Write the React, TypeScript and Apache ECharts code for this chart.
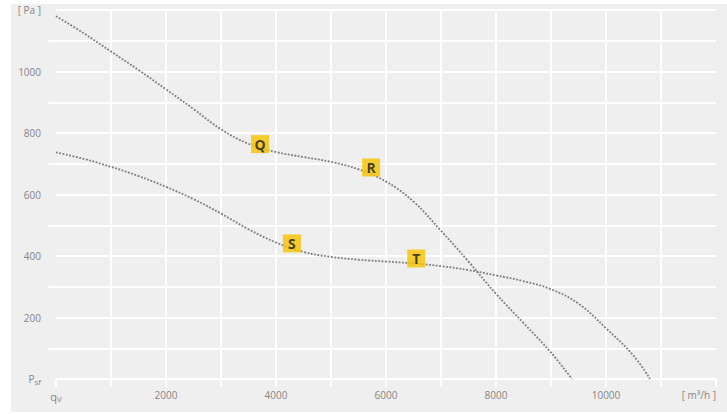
import React, { useEffect, useRef } from "react";
import * as echarts from "echarts";

const upperFlow = [0, 500, 1000, 1500, 2000, 2500, 3000, 3500, 4000, 4500, 5000, 5500, 6000, 6500, 7000, 7500, 8000, 8500, 9000, 9380];
const upperPressure = [1180, 1125, 1065, 1005, 942, 878, 812, 765, 738, 722, 706, 682, 642, 577, 482, 382, 277, 182, 86, 0];

const lowerFlow = [0, 500, 1000, 1500, 2000, 2500, 3000, 3500, 4000, 4500, 5000, 5500, 6000, 6500, 7000, 7500, 8000, 8500, 9000, 9500, 10000, 10500, 10800];
const lowerPressure = [737, 716, 690, 660, 625, 585, 538, 487, 444, 413, 397, 388, 382, 376, 367, 354, 337, 318, 292, 245, 165, 76, 0];

const markerNames = ["Q", "R", "S", "T"];
const markerFlow = [3710, 5730, 4290, 6550];
const markerPressure = [764, 688, 441, 392];

const xMax = 12000;
const yMax = 1200;

export default function App() {
  const ref = useRef<HTMLDivElement>(null);
  useEffect(() => {
    if (!ref.current) return;
    const chart = echarts.init(ref.current, undefined, { renderer: "svg" });
    const labelColor = "#858585";
    const font = "'Open Sans', 'Noto Sans', sans-serif";
    const gridLine = { color: "#ffffff", width: 1.8 };
    const lineStyle = { color: "#7a7a7a", width: 1.8, type: [1.8, 1.6] as any };
    chart.setOption({
      animation: false,
      backgroundColor: "#ffffff",
      graphic: [
        {
          type: "rect",
          z: -10,
          silent: true,
          shape: { x: 11, y: 4, width: 716, height: 408 },
          style: { fill: "#efefef" },
        },
      ],
      grid: { left: 56, right: 11, top: 10, bottom: 35 },
      xAxis: {
        type: "value",
        min: 0,
        max: xMax,
        interval: 2000,
        axisLine: { show: false },
        axisTick: { show: true, length: 8, lineStyle: gridLine },
        minorTick: { show: true, splitNumber: 2, length: 8, lineStyle: gridLine },
        splitLine: { show: true, showMinLine: false, showMaxLine: false, lineStyle: gridLine },
        minorSplitLine: { show: true, lineStyle: gridLine },
        axisLabel: {
          color: labelColor,
          fontSize: 10,
          fontFamily: font,
          margin: 11,
          alignMaxLabel: "right",
          formatter: (v: number) => {
            if (v === 0) return "{q|q}{sub|V}";
            if (v === xMax) return "[ m³/h ]";
            return String(v);
          },
          rich: {
            q: { color: labelColor, fontSize: 11, fontFamily: font },
            sub: { color: labelColor, fontSize: 8, fontFamily: font, verticalAlign: "bottom", padding: [4, 0, 0, 0] },
          },
        },
      },
      yAxis: {
        type: "value",
        min: 0,
        max: yMax,
        interval: 200,
        axisLine: { show: false },
        axisTick: { show: false },
        minorTick: { show: true, splitNumber: 2, length: 8, lineStyle: gridLine },
        splitLine: { show: true, lineStyle: gridLine },
        minorSplitLine: { show: true, lineStyle: gridLine },
        axisLabel: {
          color: labelColor,
          fontSize: 10,
          fontFamily: font,
          margin: 15,
          formatter: (v: number) => {
            if (v === 0) return "{p|P}{sub|sf}";
            if (v === yMax) return "[ Pa ]";
            return String(v);
          },
          rich: {
            p: { color: labelColor, fontSize: 10, fontFamily: font },
            sub: { color: labelColor, fontSize: 8, fontFamily: font, verticalAlign: "bottom", padding: [4, 0, 0, 0] },
          },
        },
      },
      series: [
        {
          type: "line",
          data: upperFlow.map((f, i) => [f, upperPressure[i]]),
          smooth: 0.4,
          showSymbol: false,
          lineStyle,
          z: 2,
        },
        {
          type: "line",
          data: lowerFlow.map((f, i) => [f, lowerPressure[i]]),
          smooth: 0.4,
          showSymbol: false,
          lineStyle,
          z: 2,
        },
        {
          type: "scatter",
          z: 5,
          symbol: "rect",
          symbolSize: [18, 18],
          itemStyle: { color: "#f6c300" },
          data: markerNames.map((n, i) => ({ name: n, value: [markerFlow[i], markerPressure[i]] })),
          label: {
            show: true,
            position: "inside",
            formatter: (p: any) => p.name,
            color: "#1a1a1a",
            fontSize: 14,
            fontWeight: "bold",
            fontFamily: "'Open Sans', sans-serif",
          },
        },
      ],
    });
    return () => chart.dispose();
  }, []);
  return (
    <div
      ref={ref}
      style={{ position: "absolute", left: 0, top: 0, width: 727, height: 414 }}
    />
  );
}
